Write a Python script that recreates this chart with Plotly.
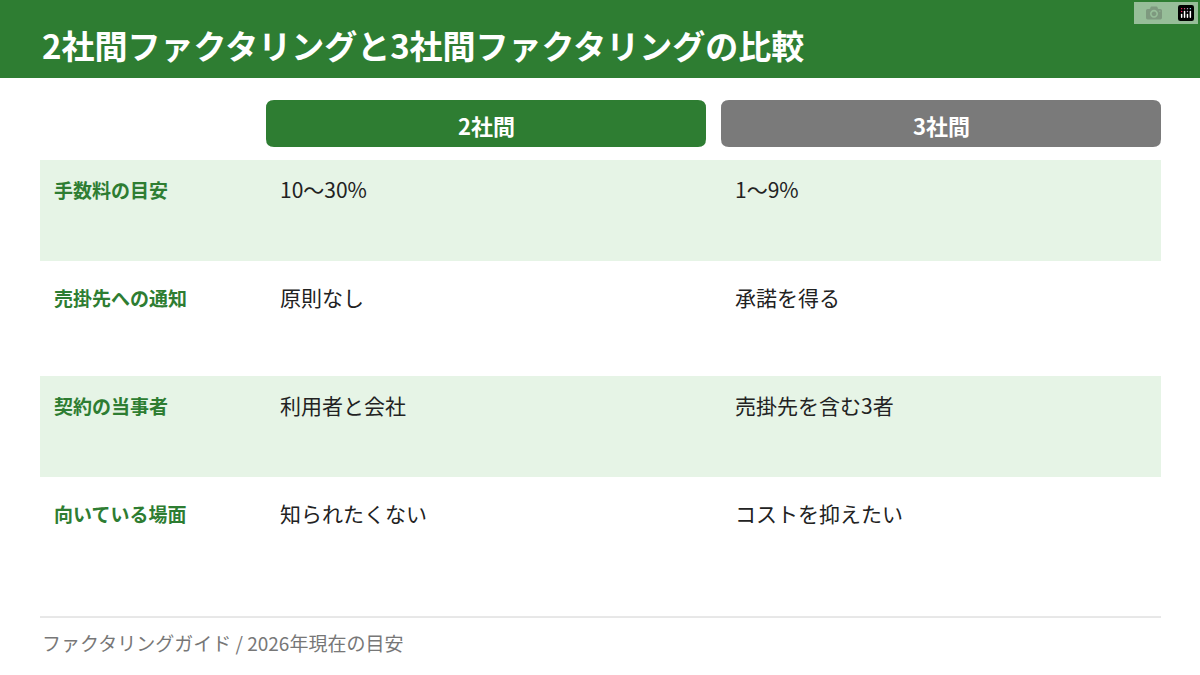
import plotly.graph_objects as go

title = "2社間ファクタリングと3社間ファクタリングの比較"
columns = ["2社間", "3社間"]
row_labels = ["手数料の目安", "売掛先への通知", "契約の当事者", "向いている場面"]
two_party = ["10～30%", "原則なし", "利用者と会社", "知られたくない"]
three_party = ["1～9%", "承諾を得る", "売掛先を含む3者", "コストを抑えたい"]
footer = "ファクタリングガイド / 2026年現在の目安"

GREEN = "#2e7d32"
GRAY = "#7a7a7a"
BAND = "#e6f4e6"
FONT = "Noto Sans CJK JP"

fig = go.Figure()
shapes, ann = [], []


def text(x, y, t, size, color, anchor="left"):
    ann.append(dict(x=x, y=y, text=t, xanchor=anchor, yanchor="middle", showarrow=False,
                    font=dict(size=size, color=color, family=FONT)))


# title bar
shapes.append(dict(type="rect", x0=0, x1=1200, y0=0, y1=78, fillcolor=GREEN, line_width=0, layer="below"))
text(40, 45, f"<b>{title}</b>", 33, "white")

# header pills
col_x = [(266, 706), (721, 1161)]
for (x0, x1), name, c in zip(col_x, columns, [GREEN, GRAY]):
    shapes.append(dict(type="path", layer="below", fillcolor=c, line_width=0,
                       path=f"M{x0+8},100 L{x1-8},100 Q{x1},100 {x1},108 L{x1},139 Q{x1},147 {x1-8},147 "
                            f"L{x0+8},147 Q{x0},147 {x0},139 L{x0},108 Q{x0},100 {x0+8},100 Z"))
    text((x0 + x1) / 2, 125, f"<b>{name}</b>", 22, "white", "center")

# rows
for i, (lab, a, b) in enumerate(zip(row_labels, two_party, three_party)):
    top = 160 + i * 108
    if i % 2 == 0:
        shapes.append(dict(type="rect", x0=40, x1=1161, y0=top, y1=top + 101,
                           fillcolor=BAND, line_width=0, layer="below"))
    text(52, top + 29, f"<b>{lab}</b>", 19, GREEN)
    text(278, top + 29, a, 21, "#222222")
    text(733, top + 29, b, 21, "#222222")

# footer
shapes.append(dict(type="line", x0=40, x1=1161, y0=617, y1=617, line=dict(color="#d0d0d0", width=1)))
text(40, 642, footer, 19, "#777777")

fig.update_layout(
    width=1200, height=675, margin=dict(l=0, r=0, t=0, b=0),
    paper_bgcolor="white", plot_bgcolor="white",
    xaxis=dict(range=[0, 1200], visible=False, fixedrange=True),
    yaxis=dict(range=[675, 0], visible=False, fixedrange=True),
    shapes=shapes, annotations=ann, showlegend=False,
)
fig.write_html("out.html", post_script="document.body.style.margin='0';")
